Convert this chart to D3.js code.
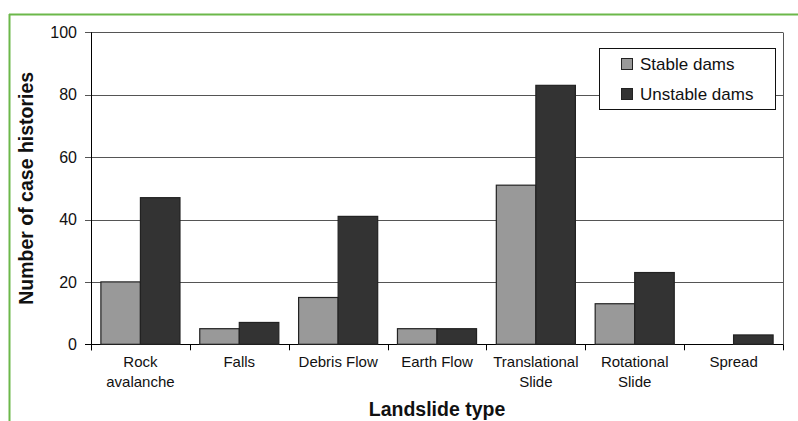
<!DOCTYPE html>
<html>
<head>
<meta charset="utf-8">
<script src="https://cdn.jsdelivr.net/npm/d3@7"></script>
<style>
  body { margin: 0; background: #fff; }
  svg { display: block; font-family: "Liberation Sans", Arial, sans-serif; }
</style>
</head>
<body>
<svg id="chart" width="798" height="421"></svg>
<script>
const categories = [["Rock", "avalanche"], ["Falls"], ["Debris Flow"], ["Earth Flow"], ["Translational", "Slide"], ["Rotational", "Slide"], ["Spread"]];
const stableDams = [20, 5, 15, 5, 51, 13, 0];
const unstableDams = [47, 7, 41, 5, 83, 23, 3];
const seriesNames = ["Stable dams", "Unstable dams"];
const seriesColors = ["#999999", "#333333"];
const yTicks = [0, 20, 40, 60, 80, 100];

(function () {
const svg = d3.select("#chart");
const pL = 91, pR = 783, pT = 32.3, pB = 344.3;

// green frame
svg.append("line").attr("x1", 9).attr("x2", 798).attr("y1", 14.5).attr("y2", 14.5)
  .attr("stroke", "#6cb84a").attr("stroke-width", 2);
svg.append("line").attr("x1", 9.5).attr("x2", 9.5).attr("y1", 14).attr("y2", 421)
  .attr("stroke", "#6cb84a").attr("stroke-width", 2);

const keys = categories.map(c => c.join(" "));
const x = d3.scaleBand().domain(keys).range([pL, pR]).paddingInner(0.2).paddingOuter(0.1);
const x1 = d3.scaleBand().domain([0, 1]).range([0, x.bandwidth()]);
const y = d3.scaleLinear().domain([0, 100]).range([pB, pT]);

// gridlines
svg.append("g").selectAll("line").data(yTicks).join("line")
  .attr("x1", pL - 6).attr("x2", pR)
  .attr("y1", d => Math.round(y(d)) + 0.5).attr("y2", d => Math.round(y(d)) + 0.5)
  .attr("stroke", d => d === 0 ? "#000" : "#555").attr("stroke-width", 1);

// right frame line
svg.append("line").attr("x1", pR + 0.5).attr("x2", pR + 0.5)
  .attr("y1", Math.round(y(100)) + 0.5).attr("y2", Math.round(y(0)) + 0.5)
  .attr("stroke", "#555");

// bars
const data = keys.map((k, i) => ({ key: k, vals: [stableDams[i], unstableDams[i]] }));
const groups = svg.append("g").selectAll("g").data(data).join("g")
  .attr("transform", d => `translate(${x(d.key)},0)`);
groups.selectAll("rect").data(d => d.vals.map((v, j) => ({ v, j })).filter(e => e.v > 0)).join("rect")
  .attr("x", d => x1(d.j)).attr("width", x1.bandwidth())
  .attr("y", d => y(d.v)).attr("height", d => y(0) - y(d.v))
  .attr("fill", d => seriesColors[d.j])
  .attr("stroke", "#222").attr("stroke-width", 1.2);

// y axis
svg.append("line").attr("x1", pL + 0.5).attr("x2", pL + 0.5)
  .attr("y1", y(100)).attr("y2", y(0) + 6).attr("stroke", "#000");
svg.append("g").selectAll("text").data(yTicks).join("text")
  .attr("x", 77).attr("y", d => y(d)).attr("dy", "0.36em")
  .attr("text-anchor", "end").attr("font-size", 16).attr("fill", "#111")
  .text(d => d);

// x axis ticks at category boundaries
const bounds = keys.map(k => x(k) - x.step() * x.paddingInner() / 2).concat([pR]);
svg.append("g").selectAll("line").data(bounds).join("line")
  .attr("x1", d => Math.round(d) + 0.5).attr("x2", d => Math.round(d) + 0.5)
  .attr("y1", y(0)).attr("y2", y(0) + 6).attr("stroke", "#000");

// category labels
const labels = svg.append("g").selectAll("text").data(data).join("text")
  .attr("x", d => x(d.key) + x.bandwidth() / 2)
  .attr("y", 367).attr("text-anchor", "middle").attr("font-size", 15).attr("fill", "#111");
labels.selectAll("tspan").data((d, i) => categories[i]).join("tspan")
  .attr("x", function () { return this.parentNode.getAttribute("x"); })
  .attr("dy", (d, i) => i === 0 ? 0 : 19.5)
  .text(d => d);

// axis titles
svg.append("text").attr("x", 437).attr("y", 416).attr("text-anchor", "middle")
  .attr("font-size", 19.5).attr("font-weight", "bold").attr("fill", "#111").text("Landslide type");
svg.append("text").attr("transform", `translate(33,${(pT + pB) / 2}) rotate(-90)`)
  .attr("text-anchor", "middle").attr("font-size", 19.5).attr("font-weight", "bold")
  .attr("fill", "#111").text("Number of case histories");

// legend
const lg = svg.append("g");
lg.append("rect").attr("x", 599.5).attr("y", 48.5).attr("width", 176).attr("height", 61)
  .attr("fill", "#fff").attr("stroke", "#111");
seriesNames.forEach((n, i) => {
  const yy = 64 + i * 30;
  lg.append("rect").attr("x", 621.5).attr("y", yy - 5.5).attr("width", 11).attr("height", 11)
    .attr("fill", seriesColors[i]).attr("stroke", "#222");
  lg.append("text").attr("x", 640).attr("y", yy).attr("dy", "0.36em")
    .attr("font-size", 17).attr("fill", "#111").text(n);
});
})();
</script>
</body>
</html>
